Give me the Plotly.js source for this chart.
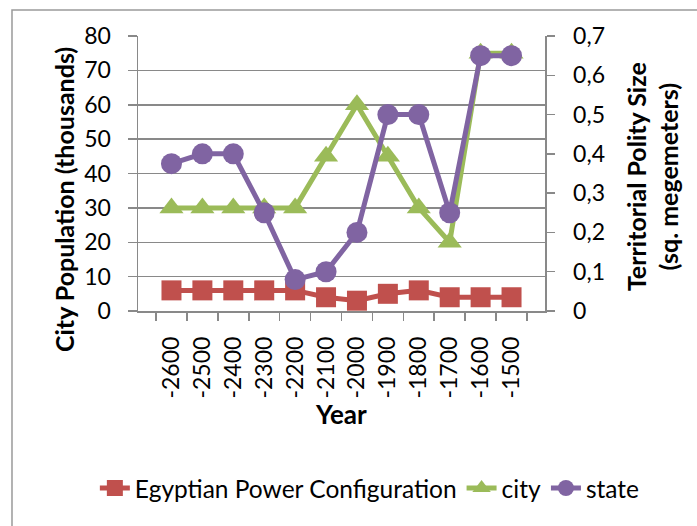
<!DOCTYPE html>
<html>
<head>
<meta charset="utf-8">
<script src="https://cdn.plot.ly/plotly-3.0.1.min.js"></script>
<style>
  html, body { margin: 0; padding: 0; background: #ffffff; }
  #chart { width: 697px; height: 526px; }
</style>
</head>
<body>
<div id="chart"></div>
<script>
// ---- data ----
const years = ["-2600", "-2500", "-2400", "-2300", "-2200", "-2100",
               "-2000", "-1900", "-1800", "-1700", "-1600", "-1500"];
const egyptianPower = [6, 6, 6, 6, 6, 4, 3, 5, 6, 4, 4, 4];      // left axis (thousands)
const cityPop = [30, 30, 30, 30, 30, 45, 60, 45, 30, 20, 75, 75];  // left axis (thousands)
const stateSize = [0.375, 0.4, 0.4, 0.25, 0.08, 0.1, 0.2, 0.5, 0.5, 0.25, 0.65, 0.65]; // right axis

const seriesNames = ["Egyptian Power Configuration", "city", "state"];
const leftTitle = "City Population (thousands)";
const rightTitle = "Territorial Polity Size<br>(sq. megemeters)";
const xTitle = "Year";

const FONT = "Lato, 'Open Sans', sans-serif";
const GRID = "#898989";
const TXT = "#000000";

const traces = [
  {
    x: years, y: egyptianPower, name: seriesNames[0], type: "scatter", mode: "lines+markers",
    line: { color: "#C0504D", width: 5 },
    marker: { symbol: "square", size: 20, color: "#C0504D" },
    yaxis: "y"
  },
  {
    x: years, y: cityPop, name: seriesNames[1], type: "scatter", mode: "lines+markers",
    line: { color: "#9BBB59", width: 5 },
    marker: { symbol: "triangle-up", size: 21, color: "#9BBB59" },
    yaxis: "y"
  },
  {
    x: years, y: stateSize, name: seriesNames[2], type: "scatter", mode: "lines+markers",
    line: { color: "#8064A2", width: 5 },
    marker: { symbol: "circle", size: 21, color: "#8064A2" },
    yaxis: "y2"
  }
];

const layout = {
  width: 697, height: 526,
  margin: { l: 138, r: 152, t: 36, b: 215, pad: 0, autoexpand: false },
  paper_bgcolor: "#ffffff", plot_bgcolor: "#ffffff",
  separators: ", ",
  font: { family: FONT, size: 23, color: TXT },
  showlegend: true,
  legend: {
    orientation: "h", x: -0.106, xanchor: "left", y: -0.644, yanchor: "middle",
    font: { family: FONT, size: 24.5, color: TXT },
    itemwidth: 30, tracegroupgap: 0, bgcolor: "rgba(0,0,0,0)"
  },
  xaxis: {
    type: "category", showgrid: false, zeroline: false,
    showline: true, linecolor: GRID, linewidth: 1.5,
    ticks: "outside", tickson: "boundaries", ticklen: 8, tickcolor: GRID, tickwidth: 1.5,
    tickangle: -90, tickfont: { family: FONT, size: 23, color: TXT },
    ticklabelstandoff: 15, fixedrange: true, automargin: false
  },
  yaxis: {
    range: [0, 80], dtick: 10, tick0: 0,
    showgrid: true, gridcolor: GRID, gridwidth: 1.5, zeroline: false,
    showline: true, linecolor: GRID, linewidth: 1.5,
    ticks: "outside", ticklen: 9, tickcolor: GRID, tickwidth: 1.5,
    tickfont: { family: FONT, size: 23, color: TXT },
    ticklabelstandoff: 12, fixedrange: true, automargin: false
  },
  yaxis2: {
    overlaying: "y", side: "right", range: [0, 0.7], dtick: 0.1, tick0: 0,
    showgrid: false, zeroline: false,
    showline: true, linecolor: GRID, linewidth: 1.5,
    ticks: "outside", ticklen: 8, tickcolor: GRID, tickwidth: 1.5,
    tickfont: { family: FONT, size: 23, color: TXT },
    ticklabelstandoff: 14, fixedrange: true, automargin: false
  },
  annotations: [
    {
      text: leftTitle, xref: "paper", yref: "paper", x: -0.1818, y: 0.4036,
      xanchor: "center", yanchor: "middle", textangle: -90, showarrow: false,
      font: { family: FONT, size: 25, color: TXT, weight: "bold" }
    },
    {
      text: rightTitle, xref: "paper", yref: "paper", x: 1.263, y: 0.487,
      xanchor: "center", yanchor: "middle", textangle: -90, showarrow: false,
      font: { family: FONT, size: 25, color: TXT, weight: "bold" }
    },
    {
      text: xTitle, xref: "paper", yref: "paper", x: 0.499, y: -0.3745,
      xanchor: "center", yanchor: "middle", showarrow: false,
      font: { family: FONT, size: 26, color: TXT, weight: "bold" }
    }
  ],
  shapes: [
    {
      type: "rect", xref: "paper", yref: "paper",
      x0: -0.3096, y0: -0.85, x1: 1.42, y1: 1.0945,
      line: { color: "#9a9a9a", width: 1.5 }, fillcolor: "rgba(0,0,0,0)", layer: "below"
    }
  ]
};

Plotly.newPlot("chart", traces, layout, { displayModeBar: false, staticPlot: true });
</script>
</body>
</html>
